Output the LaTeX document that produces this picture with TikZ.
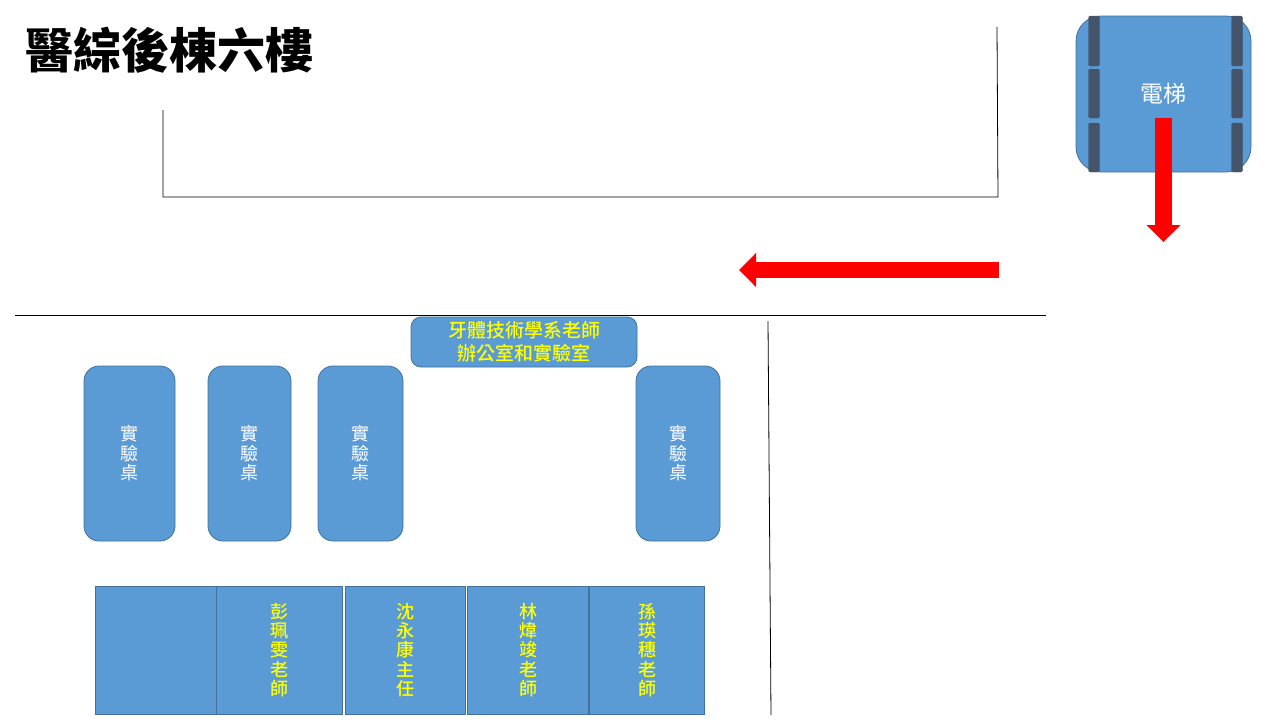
\documentclass[tikz,border=0pt]{standalone}
\usepackage{fontspec}
\setmainfont{Noto Sans CJK TC}
\newfontfamily\medfont{Noto Sans CJK TC Medium}
\usetikzlibrary{arrows.meta}
\definecolor{boxblue}{HTML}{5B9BD5}
\definecolor{boxline}{HTML}{41719C}
\definecolor{railblue}{HTML}{44546A}
\definecolor{nameyellow}{RGB}{255,255,0}

\begin{document}
\begin{tikzpicture}[x=1pt,y=-1pt,
  box/.style = {draw=boxline,fill=boxblue,line width=0.8pt,inner sep=0pt,align=center},
  desk/.style = {box,rounded corners=15pt,minimum height=175pt,text=white,font=\fontsize{18}{19.5}\selectfont},
  cell/.style = {box,minimum height=128pt,text=nameyellow,font=\medfont\fontsize{18}{19.3}\selectfont},
  rail/.style = {draw=railblue,fill=railblue,rounded corners=1.5pt,inner sep=0pt,minimum width=11pt},
  wall/.style = {draw=black,line width=0.8pt},
  redarrow/.style = {draw=red,line width=16.5pt,-{Triangle[length=17pt,width=33pt]}}]

\useasboundingbox (0,0) rectangle (1280,720);

\node[anchor=west,font=\fontsize{48}{50}\selectfont\bfseries] (title) at (21.5,50) {醫綜後棟六樓};

% walls
\coordinate (w1) at (163,110);
\coordinate (w2) at (163,197);
\coordinate (w3) at (998,197);
\coordinate (w4) at (997,27);
\coordinate (w5) at (15,315);
\coordinate (w6) at (1046,315);
\coordinate (w7) at (768,321);
\coordinate (w8) at (771,715);
\draw[wall] (w1) -- (w2) -- (w3) -- (w4);
\draw[wall] (w5) -- (w6);
\draw[wall] (w7) -- (w8);

% elevator
\node[box,rounded corners=25pt,minimum width=175pt,minimum height=156pt,text=white,
  font=\fontsize{23}{26}\selectfont] (lift) at (1163.5,94) {電梯};
\node[rail,minimum height=50pt] (railA) at (1094,41) {};
\node[rail,minimum height=49pt] (railB) at (1094,93.5) {};
\node[rail,minimum height=49pt] (railC) at (1094,147.5) {};
\node[rail,minimum height=50pt] (railD) at (1237,41) {};
\node[rail,minimum height=49pt] (railE) at (1237,93.5) {};
\node[rail,minimum height=49pt] (railF) at (1237,147.5) {};

\coordinate (liftFrom) at (1163.5,118);
\coordinate (liftTo) at (1163.5,242);
\coordinate (hallFrom) at (999,270);
\coordinate (hallTo) at (739,270);
\draw[redarrow] (liftFrom) -- (liftTo);
\draw[redarrow] (hallFrom) -- (hallTo);

% office sign
\node[box,rounded corners=10pt,minimum width=226pt,minimum height=50pt,text=nameyellow,
  font=\medfont\fontsize{19}{23}\selectfont] (sign) at (524,342) {牙體技術學系老師\\辦公室和實驗室};

% desks
\node[desk,minimum width=91pt] (deskA) at (129.5,453.5) {實\\驗\\桌};
\node[desk,minimum width=83pt] (deskB) at (249.5,453.5) {實\\驗\\桌};
\node[desk,minimum width=85pt] (deskC) at (360.5,453.5) {實\\驗\\桌};
\node[desk,minimum width=84pt] (deskD) at (678,453.5) {實\\驗\\桌};

% rooms
\node[cell,minimum width=120.5pt] (roomA) at (155.7,650) {};
\node[cell,minimum width=126pt] (roomB) at (279.5,650) {彭\\珮\\雯\\老\\師};
\node[cell,minimum width=120.5pt] (roomC) at (405.2,650) {沈\\永\\康\\主\\任};
\node[cell,minimum width=120.5pt] (roomD) at (528,650) {林\\煒\\竣\\老\\師};
\node[cell,minimum width=115pt] (roomE) at (647,650) {孫\\瑛\\穗\\老\\師};

\end{tikzpicture}
\end{document}
